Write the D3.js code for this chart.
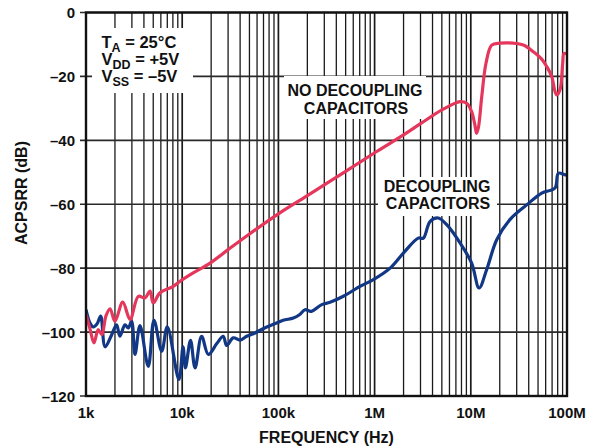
<!DOCTYPE html>
<html>
<head>
<meta charset="utf-8">
<script src="https://cdn.jsdelivr.net/npm/d3@7"></script>
<style>
    body { margin: 0; background: #fff; }
    text { font-family: "Liberation Sans", Arial, Helvetica, sans-serif; font-weight: bold; fill: #111; }
</style>
</head>
<body>
<div id="chart"></div>
<script>

// frequency (Hz) / ACPSRR (dB)
let noDecoupling = [
    [1.0e3, -94.5], [1.1e3, -99], [1.21e3, -103.4], [1.34e3, -99.2], [1.46e3, -100.8],
    [1.61e3, -95], [1.78e3, -92.7], [2.0e3, -96.6], [2.41e3, -90.6], [2.87e3, -96],
    [3.5e3, -88.8], [4.1e3, -89.3], [4.63e3, -87.2], [5.0e3, -90.9], [5.88e3, -87.7],
    [8.08e3, -85.7], [9.5e3, -84.1], [13e3, -81.5], [19.5e3, -78.4], [30e3, -74.2],
    [50e3, -69.3], [100e3, -63], [200e3, -57.3], [500e3, -49.7], [1.05e6, -43.5],
    [2e6, -38.3], [3e6, -34.8], [5e6, -30.5], [7.13e6, -28.2], [7.72e6, -27.9],
    [9.06e6, -28.4], [10.2e6, -31], [11e6, -35], [11.5e6, -37.8], [12e6, -36],
    [13e6, -26.3], [14.4e6, -15.8], [16.5e6, -10.2], [20.1e6, -9.6], [27.7e6, -9.6],
    [35.2e6, -10.2], [44.7e6, -12.3], [54.6e6, -14.6], [61.5e6, -16.9], [69.3e6, -20],
    [75e6, -24.7], [78.2e6, -25.8], [84.6e6, -24.2], [90.2e6, -15.9], [93.1e6, -12.8],
    [100e6, -13]
];

let withDecoupling = [
    [1.0e3, -93], [1.1e3, -97.2], [1.19e3, -98.4], [1.3e3, -97.5], [1.42e3, -95],
    [1.58e3, -104.6], [1.85e3, -100.8], [2.08e3, -97.7], [2.25e3, -101.3], [2.54e3, -97.7],
    [2.75e3, -98.7], [2.98e3, -96.6], [3.23e3, -107], [3.64e3, -98], [4.44e3, -110.7],
    [5.09e3, -96.3], [6.12e3, -106], [7.0e3, -98.4], [9.24e3, -114.8], [10.2e3, -104.6],
    [10.8e3, -111.2], [12.2e3, -102.6], [13.6e3, -111.2], [15.9e3, -101.3], [18.7e3, -107],
    [22.9e3, -103.6], [26.7e3, -101.3], [29e3, -104.2], [33.9e3, -101.8], [40e3, -102.5],
    [46.8e3, -101.3], [55e3, -100.5], [75.6e3, -98.4], [90e3, -97.5], [112e3, -96.3],
    [143e3, -95.6], [167e3, -94.5], [189e3, -93], [220e3, -93.5], [282e3, -91.4],
    [344e3, -90.7], [473e3, -88.8], [705e3, -85.7], [970e3, -83.6], [1.45e6, -80],
    [1.99e6, -75.3], [2.84e6, -70.6], [3.21e6, -70.6], [3.77e6, -65.4], [4.59e6, -64.3],
    [5.62e6, -66.4], [7.73e6, -72.1], [10.2e6, -78.4], [12.2e6, -86.2], [14.6e6, -80.5],
    [18.6e6, -71.1], [25.5e6, -64.8], [38.1e6, -60.2], [54.6e6, -56.5], [75e6, -54.9],
    [81.3e6, -50.3], [95.3e6, -50.8], [100e6, -50.8]
];

let xTicks = [1e3, 1e4, 1e5, 1e6, 1e7, 1e8];
let xTickLabels = ["1k", "10k", "100k", "1M", "10M", "100M"];
let yTicks = [0, -20, -40, -60, -80, -100, -120];
let yTickLabels = ["0", "\u201320", "\u201340", "\u201360", "\u201380", "\u2013100", "\u2013120"];

class PsrrChart {

    constructor(parentElement) {
        this._parentElement = parentElement;
        this.initVis();
    }

    initVis() {
        let vis = this;

        vis.margin = {top: 12.5, right: 23, bottom: 52, left: 86};
        vis.width = 590 - vis.margin.left - vis.margin.right;
        vis.height = 448 - vis.margin.top - vis.margin.bottom;

        vis.svg = d3.select("#" + vis._parentElement).append("svg")
            .attr("width", 590)
            .attr("height", 448)
            .append("g")
            .attr("transform", "translate(" + vis.margin.left + "," + vis.margin.top + ")");

        vis.x = d3.scaleLog().domain([1e3, 1e8]).range([0, vis.width]);
        vis.y = d3.scaleLinear().domain([-120, 0]).range([vis.height, 0]);

        // minor + decade grid lines
        let minor = [];
        for (let d = 1e3; d < 1e8; d *= 10) {
            for (let k = 2; k <= 9; k++) minor.push(d * k);
        }
        vis.svg.append("g").selectAll("line.minor")
            .data(minor).enter().append("line")
            .attr("x1", d => vis.x(d)).attr("x2", d => vis.x(d))
            .attr("y1", 0).attr("y2", vis.height)
            .attr("stroke", "#1a1a1a").attr("stroke-width", 1.3);
        vis.svg.append("g").selectAll("line.major")
            .data(xTicks).enter().append("line")
            .attr("x1", d => vis.x(d)).attr("x2", d => vis.x(d))
            .attr("y1", 0).attr("y2", vis.height)
            .attr("stroke", "#1a1a1a").attr("stroke-width", 1.7);
        vis.svg.append("g").selectAll("line.h")
            .data(yTicks).enter().append("line")
            .attr("x1", -6).attr("x2", vis.width)
            .attr("y1", d => vis.y(d)).attr("y2", d => vis.y(d))
            .attr("stroke", "#2a2a2a").attr("stroke-width", 1.7);

        // white label backgrounds (these hide the grid)
        let boxes = [[92, 28, 101, 65], [284, 76, 142, 43], [378, 177, 119, 39]];
        boxes.forEach(b => {
            vis.svg.append("rect")
                .attr("x", b[0] - vis.margin.left).attr("y", b[1] - vis.margin.top)
                .attr("width", b[2]).attr("height", b[3])
                .attr("fill", "#fff");
        });

        // curves
        vis.svg.append("clipPath").attr("id", "plotClip")
            .append("rect").attr("width", vis.width).attr("height", vis.height);

        vis.line = d3.line()
            .x(d => vis.x(d[0]))
            .y(d => vis.y(d[1]))
            .curve(d3.curveCatmullRom.alpha(0.5));

        vis.svg.append("path")
            .datum(withDecoupling)
            .attr("d", vis.line)
            .attr("fill", "none")
            .attr("stroke", "#113785")
            .attr("stroke-width", 3.2)
            .attr("stroke-linejoin", "round")
            .attr("clip-path", "url(#plotClip)");

        vis.svg.append("path")
            .datum(noDecoupling)
            .attr("d", vis.line)
            .attr("fill", "none")
            .attr("stroke", "#e5375c")
            .attr("stroke-width", 3.2)
            .attr("stroke-linejoin", "round")
            .attr("clip-path", "url(#plotClip)");

        // frame
        vis.svg.append("rect")
            .attr("width", vis.width).attr("height", vis.height)
            .attr("fill", "none").attr("stroke", "#111").attr("stroke-width", 2.4);

        // tick labels
        vis.svg.append("g").selectAll("text")
            .data(xTicks).enter().append("text")
            .attr("x", d => vis.x(d))
            .attr("y", vis.height + 22)
            .attr("text-anchor", "middle")
            .style("font-size", "15px")
            .text((d, i) => xTickLabels[i]);

        vis.svg.append("g").selectAll("text")
            .data(yTicks).enter().append("text")
            .attr("x", -11)
            .attr("y", d => vis.y(d) + 5.5)
            .attr("text-anchor", "end")
            .style("font-size", "15px")
            .text((d, i) => yTickLabels[i]);

        // axis titles
        vis.svg.append("text")
            .attr("x", (258 + 395) / 2 - vis.margin.left)
            .attr("y", 443 - vis.margin.top)
            .attr("text-anchor", "middle")
            .style("font-size", "16px")
            .text("FREQUENCY (Hz)");

        vis.svg.append("text")
            .attr("transform", "translate(" + (27 - vis.margin.left) + "," + (193 - vis.margin.top) + ") rotate(-90)")
            .attr("text-anchor", "middle")
            .style("font-size", "16px")
            .text("ACPSRR (dB)");

        // conditions block
        let rows = [["T", "A", " = 25\u00B0C"], ["V", "DD", " = +5V"], ["V", "SS", " = \u20135V"]];
        rows.forEach((r, i) => {
            let t = vis.svg.append("text")
                .attr("x", 101.5 - vis.margin.left)
                .attr("y", 48 + i * 17 - vis.margin.top)
                .style("font-size", "16.5px");
            t.append("tspan").text(r[0]);
            t.append("tspan").attr("dy", 4).style("font-size", "12.5px").text(r[1]);
            t.append("tspan").attr("dy", -4).text(r[2]);
        });

        // curve labels
        let labels = [
            {x: 355, y: 96, text: "NO DECOUPLING"},
            {x: 356, y: 114, text: "CAPACITORS"},
            {x: 437, y: 192, text: "DECOUPLING"},
            {x: 438, y: 209, text: "CAPACITORS"}
        ];
        labels.forEach(l => {
            vis.svg.append("text")
                .attr("x", l.x - vis.margin.left)
                .attr("y", l.y - vis.margin.top)
                .attr("text-anchor", "middle")
                .style("font-size", "16px")
                .text(l.text);
        });
    }
}

let chart = new PsrrChart("chart");
</script>
</body>
</html>
